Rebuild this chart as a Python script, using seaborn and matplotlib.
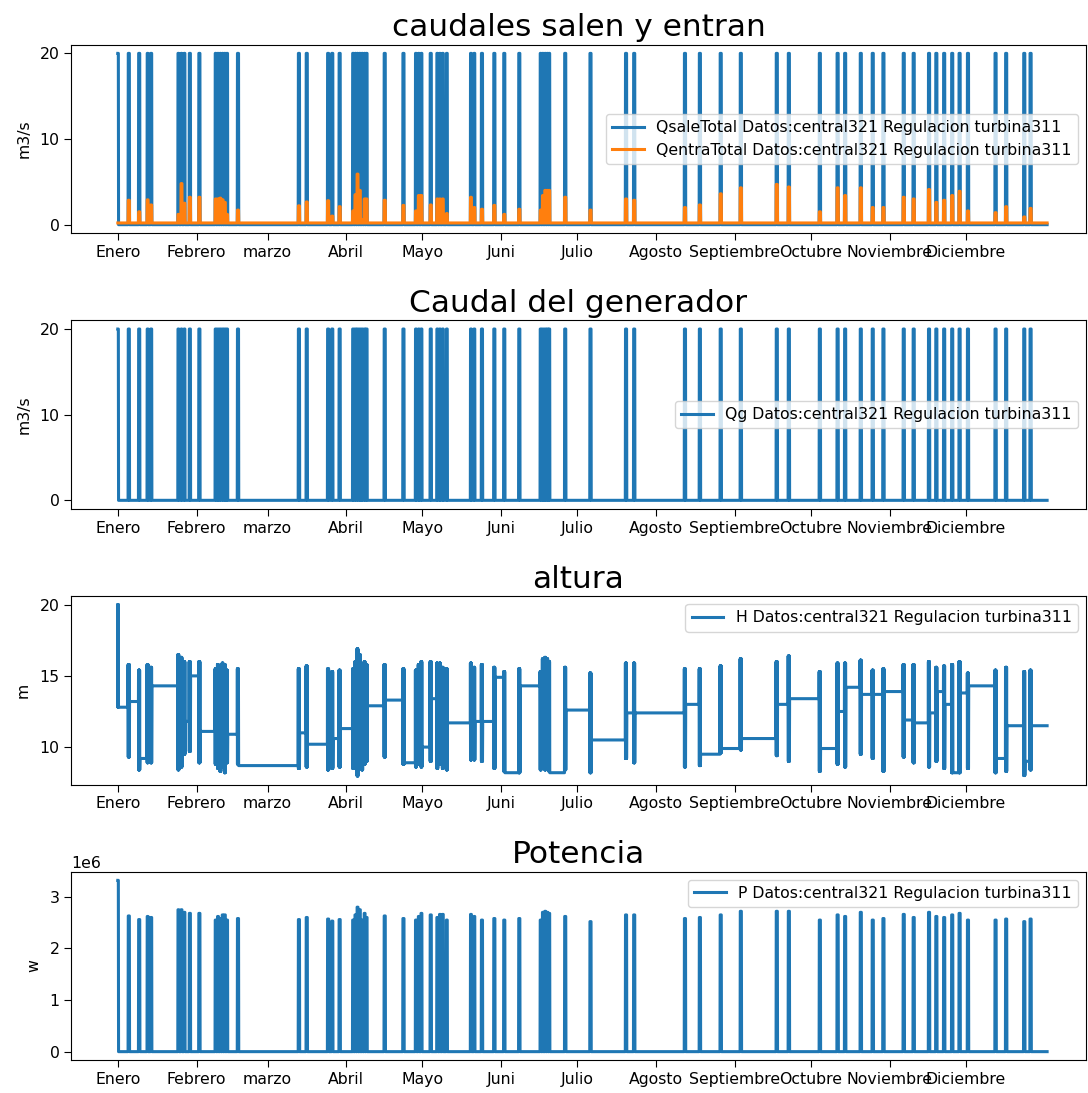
import numpy as np
import pandas as pd
import matplotlib
matplotlib.use("Agg")
import matplotlib.pyplot as plt
import seaborn as sns

# ---------------- data ----------------
month_labels = ["Enero", "Febrero", "marzo", "Abril", "Mayo", "Juni", "Julio",
                "Agosto", "Septiembre", "Octubre", "Noviembre", "Diciembre"]
month_start_hours = [0, 744, 1416, 2160, 2880, 3624, 4344, 5088, 5832, 6552, 7296, 8016]
n_hours = 8784

# generation events: centre hour and duration (hours)
ev_center = [2, 104, 202, 282, 315, 573, 602, 630, 681, 771,
             925, 947, 969, 991, 1012, 1033, 1136, 1712, 1786, 1988,
             2027, 2097, 2224, 2246, 2266, 2288, 2310, 2333, 2352, 2523,
             2700, 2818, 2845, 2870, 2958, 3020, 3045, 3072, 3110, 3338,
             3370, 3442, 3559, 3653, 3795, 3997, 4018, 4040, 4060, 4078,
             4229, 4468, 4804, 4881, 5361, 5502, 5699, 5889, 6229, 6343,
             6636, 6804, 6875, 7023, 7136, 7237, 7429, 7523, 7668, 7737,
             7811, 7887, 7957, 8036, 8297, 8397, 8568, 8628]
ev_hours = [6, 12, 12, 10, 12, 10, 10, 10, 12, 12,
            10, 10, 10, 10, 10, 10, 12, 12, 12, 12,
            12, 12, 10, 10, 10, 10, 10, 10, 10, 12,
            12, 10, 10, 10, 12, 10, 10, 10, 10, 10,
            10, 12, 12, 12, 12, 10, 10, 10, 10, 10,
            12, 12, 12, 12, 12, 12, 12, 12, 12, 12,
            12, 12, 12, 12, 12, 12, 12, 12, 12, 12,
            12, 12, 12, 12, 12, 12, 12, 12]

# turbine flow when generating (m3/s)
q_on = 20.0
# inflow: base and peak per event (m3/s)
q_in_base = 0.2
q_in_peak = [0.2, 2.85, 1.5, 2.9, 2.3, 1.2, 4.8, 2.5, 3.2, 3.2,
             3.0, 3.0, 3.1, 2.9, 2.6, 1.2, 1.7, 2.2, 2.65, 2.8,
             1.0, 2.1, 1.6, 3.5, 5.9, 4.0, 0.6, 3.0, 3.0, 2.85,
             2.25, 1.6, 3.4, 3.4, 2.3, 3.0, 3.0, 3.0, 1.3, 3.2,
             2.0, 1.8, 2.25, 1.2, 1.8, 1.7, 3.4, 4.0, 4.0, 4.0,
             3.2, 1.7, 3.0, 2.85, 2.0, 2.3, 3.6, 4.3, 4.7, 4.4,
             1.5, 4.3, 3.4, 4.3, 2.0, 2.0, 3.2, 3.0, 4.1, 2.6,
             2.85, 3.4, 3.9, 1.6, 1.4, 2.1, 0.9, 1.9]

# head (m): high / low during each event and flat level after it
h_high = [20.0, 15.8, 15.4, 15.8, 15.6, 16.5, 16.3, 16.0, 16.0, 16.0,
          15.5, 15.8, 15.6, 15.9, 15.8, 15.4, 15.5, 15.5, 15.7, 15.5,
          15.3, 15.4, 15.5, 16.0, 16.9, 16.5, 15.6, 16.0, 15.8, 15.8,
          15.5, 15.4, 15.8, 16.0, 16.0, 15.9, 15.9, 15.6, 15.5, 15.9,
          15.6, 15.8, 15.6, 15.3, 15.5, 15.3, 16.2, 16.3, 16.2, 16.0,
          15.6, 15.2, 15.9, 15.9, 15.5, 15.5, 15.7, 16.2, 16.0, 16.4,
          15.3, 15.9, 15.9, 16.1, 15.4, 15.5, 15.8, 15.8, 16.0, 15.6,
          15.7, 15.8, 16.0, 15.2, 15.4, 15.6, 15.3, 15.4]
h_low = [12.8, 9.3, 8.4, 8.9, 8.9, 8.4, 8.6, 9.5, 9.7, 8.9,
         8.8, 8.5, 8.3, 8.6, 8.2, 8.9, 8.8, 8.5, 8.6, 8.4,
         8.5, 8.6, 8.5, 8.9, 7.97, 8.7, 8.4, 8.8, 9.0, 9.3,
         8.8, 8.6, 8.8, 8.6, 9.0, 8.5, 8.8, 8.5, 8.4, 9.1,
         9.1, 9.0, 8.5, 8.3, 8.2, 8.4, 8.5, 8.4, 8.9, 8.3,
         8.4, 8.2, 9.2, 8.9, 8.6, 8.7, 9.6, 9.8, 9.4, 9.0,
         8.3, 8.8, 8.6, 9.5, 9.2, 8.3, 9.3, 8.9, 8.6, 9.0,
         8.5, 8.2, 8.2, 8.5, 8.2, 8.3, 8.0, 8.4]
h_after = [12.8, 13.2, 9.2, 9.0, 14.3, 12.0, 11.8, 11.8, 15.0, 11.1,
           11.0, 10.8, 11.0, 10.9, 11.0, 10.9, 8.7, 11.0, 10.2, 10.5,
           10.6, 11.3, 12.0, 12.5, 12.8, 12.8, 12.8, 12.8, 12.9, 13.3,
           8.9, 9.5, 10.0, 10.0, 13.4, 9.0, 9.2, 13.4, 11.7, 13.4,
           11.8, 11.8, 14.9, 8.2, 14.3, 14.0, 14.0, 13.5, 13.0, 8.2,
           12.6, 10.5, 12.4, 12.4, 13.0, 9.5, 9.9, 10.6, 13.0, 13.4,
           9.9, 12.5, 14.2, 13.7, 13.7, 13.9, 11.9, 11.7, 12.4, 13.9,
           13.0, 8.2, 13.8, 14.3, 9.2, 11.5, 9.0, 11.5]

# power during each event (MW -> W)
p_mw = [3.32, 2.63, 2.56, 2.62, 2.60, 2.75, 2.75, 2.70, 2.68, 2.68,
        2.55, 2.62, 2.58, 2.65, 2.65, 2.55, 2.58, 2.56, 2.60, 2.57,
        2.53, 2.56, 2.55, 2.65, 2.80, 2.75, 2.55, 2.68, 2.60, 2.63,
        2.58, 2.55, 2.62, 2.68, 2.65, 2.60, 2.66, 2.66, 2.55, 2.66,
        2.62, 2.55, 2.58, 2.55, 2.58, 2.55, 2.70, 2.72, 2.70, 2.68,
        2.62, 2.52, 2.65, 2.65, 2.58, 2.60, 2.65, 2.72, 2.72, 2.72,
        2.55, 2.65, 2.62, 2.70, 2.55, 2.58, 2.66, 2.60, 2.70, 2.62,
        2.60, 2.65, 2.68, 2.55, 2.55, 2.57, 2.52, 2.57]

suffix = " Datos:central321 Regulacion turbina311"

# ---------------- build hourly series from the event table ----------------
hours = np.arange(0, n_hours + 1)
q_out = np.zeros(hours.size)
q_in = np.full(hours.size, q_in_base)
head = np.zeros(hours.size)
power = np.zeros(hours.size)

starts = [max(0, int(c - d / 2)) for c, d in zip(ev_center, ev_hours)]
for i, (s, d) in enumerate(zip(starts, ev_hours)):
    e = s + d
    q_out[s:e] = q_on
    q_in[s:e] = q_in_peak[i]
    power[s:e] = p_mw[i] * 1e6
    head[s:e:2] = h_high[i]
    head[s + 1:e:2] = h_low[i]
    nxt = starts[i + 1] if i + 1 < len(starts) else hours.size
    head[e:nxt] = h_after[i]

df = pd.DataFrame({"hora": hours, "Qsale": q_out, "Qentra": q_in,
                   "Qg": q_out, "H": head, "P": power})

# ---------------- plot ----------------
plt.rcParams["font.family"] = ["DejaVu Sans"]
FS = 11.3
fig, axes = plt.subplots(4, 1, figsize=(10.88, 10.93), dpi=100)
fig.subplots_adjust(left=0.0655, right=0.998, top=0.959, bottom=0.030, hspace=0.463)

blue = "#1f77b4"
orange = "#ff7f0e"
LW = 2.2

ax = axes[0]
sns.lineplot(data=df, x="hora", y="Qsale", ax=ax, color=blue, estimator=None,
             linewidth=LW, label="QsaleTotal" + suffix)
sns.lineplot(data=df, x="hora", y="Qentra", ax=ax, color=orange, estimator=None,
             linewidth=LW, label="QentraTotal" + suffix)
ax.set_title("caudales salen y entran", fontsize=22.5)
ax.set_ylabel("m3/s", fontsize=FS, labelpad=6)
ax.set_yticks([0, 10, 20])
ax.legend(loc="center right", fontsize=FS)

ax = axes[1]
sns.lineplot(data=df, x="hora", y="Qg", ax=ax, color=blue, estimator=None,
             linewidth=LW, label="Qg" + suffix)
ax.set_title("Caudal del generador", fontsize=22.5)
ax.set_ylabel("m3/s", fontsize=FS, labelpad=6)
ax.set_yticks([0, 10, 20])
ax.legend(loc="center right", fontsize=FS)

ax = axes[2]
sns.lineplot(data=df, x="hora", y="H", ax=ax, color=blue, estimator=None,
             linewidth=LW, label="H" + suffix)
ax.set_title("altura", fontsize=22.5)
ax.set_ylabel("m", fontsize=FS, labelpad=6)
ax.set_yticks([10, 15, 20])
ax.legend(loc="upper right", fontsize=FS)

ax = axes[3]
sns.lineplot(data=df, x="hora", y="P", ax=ax, color=blue, estimator=None,
             linewidth=LW, label="P" + suffix)
ax.set_title("Potencia", fontsize=22.5)
ax.set_ylabel("w", fontsize=FS, labelpad=6)
ax.set_yticks([0, 1e6, 2e6, 3e6])
ax.legend(loc="upper right", fontsize=FS)
ax.yaxis.get_offset_text().set_fontsize(FS)

for ax in axes:
    ax.set_xticks(month_start_hours)
    ax.set_xticklabels(month_labels)
    ax.set_xlabel("")
    ax.set_xlim(-440, 9150)
    ax.tick_params(labelsize=FS, length=5)

fig.savefig("out.png", dpi=100)
